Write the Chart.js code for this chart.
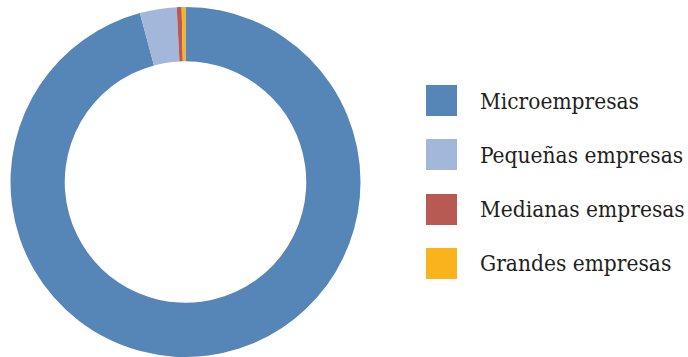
<!DOCTYPE html>
<html>
<head>
<meta charset="utf-8">
<script src="https://cdn.jsdelivr.net/npm/chart.js@4/dist/chart.umd.min.js"></script>
<style>
  html, body { margin: 0; padding: 0; background: #fff; }
  #wrap { position: relative; width: 688px; height: 357px; overflow: hidden; }
  #chartBox { position: absolute; left: 10px; top: 7px; width: 351px; height: 350px; }
  #legend { position: absolute; left: 426px; top: 85px; margin: 0; padding: 0; list-style: none;
    font-family: "DejaVu Serif", serif; font-stretch: condensed; font-size: 22.5px; color: #231f20; }
  #legend li { display: flex; align-items: center; height: 31px; margin-bottom: 23.3px; white-space: nowrap; }
  #legend .box { width: 31px; height: 31px; margin-right: 23px; flex: none; }
</style>
</head>
<body>
<div id="wrap">
  <div id="chartBox"><canvas id="donut"></canvas></div>
  <ul id="legend"></ul>
</div>
<script>
const labels = ["Microempresas", "Pequeñas empresas", "Medianas empresas", "Grandes empresas"];
const shares = [95.8, 3.4, 0.45, 0.35];
const colors = ["#5586b7", "#a2b7da", "#b85a53", "#fab31d"];

// html legend built from the chart's own legend items
const htmlLegend = {
  id: "htmlLegend",
  afterUpdate(chart) {
    const ul = document.getElementById("legend");
    ul.innerHTML = "";
    const items = chart.options.plugins.legend.labels.generateLabels(chart);
    items.forEach((item) => {
      const li = document.createElement("li");
      const box = document.createElement("span");
      box.className = "box";
      box.style.background = item.fillStyle;
      const txt = document.createElement("span");
      txt.textContent = item.text;
      li.appendChild(box);
      li.appendChild(txt);
      ul.appendChild(li);
    });
  },
};

new Chart(document.getElementById("donut"), {
  type: "doughnut",
  data: {
    labels: labels,
    datasets: [
      {
        data: shares,
        backgroundColor: colors,
        borderWidth: 0,
      },
    ],
  },
  options: {
    responsive: true,
    maintainAspectRatio: false,
    animation: false,
    cutout: "69%",
    layout: { padding: 0 },
    plugins: {
      legend: { display: false },
      tooltip: { enabled: false },
    },
  },
  plugins: [htmlLegend],
});
</script>
</body>
</html>
